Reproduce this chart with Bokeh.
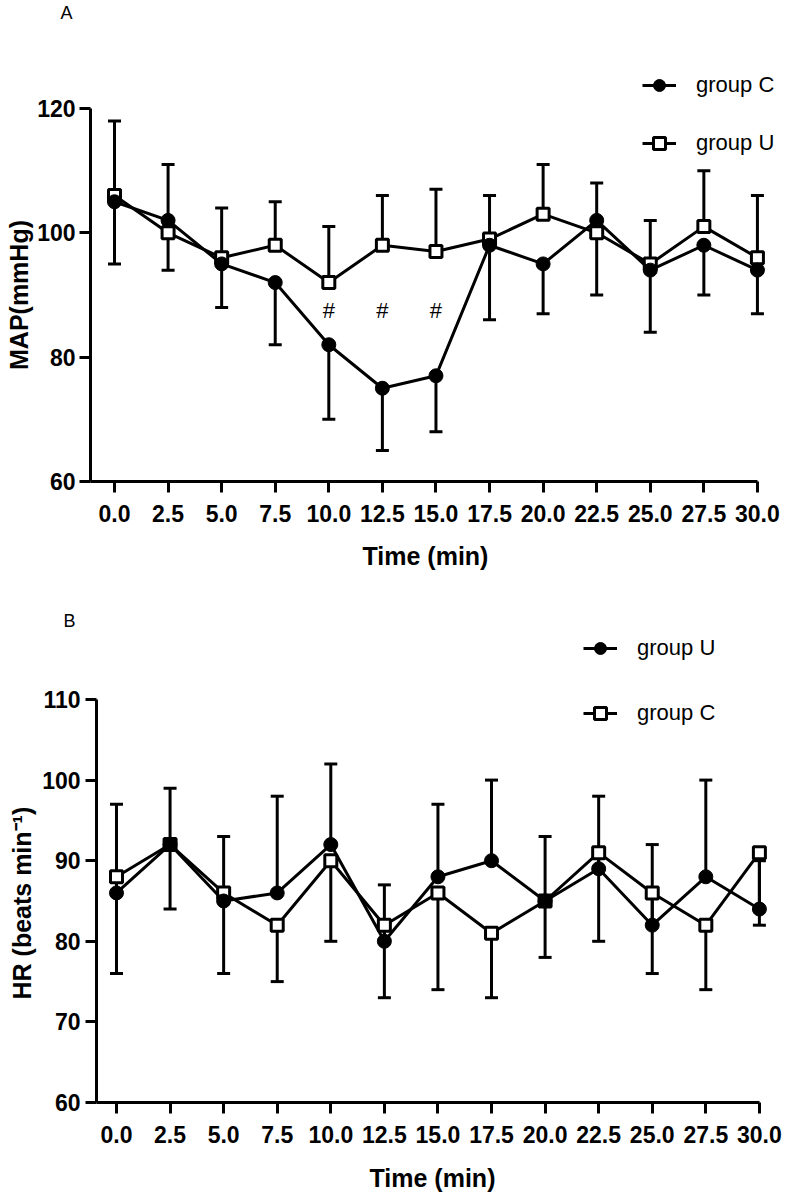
from bokeh.plotting import figure
from bokeh.models import (Range1d, FixedTicker, Whisker, TeeHead, ColumnDataSource,
                          Legend, LegendItem, Title, NumeralTickFormatter)
from bokeh.embed import file_html
from bokeh.resources import INLINE
from bokeh.core.properties import value

# ---------------- data ----------------
times = [0, 2.5, 5, 7.5, 10, 12.5, 15, 17.5, 20, 22.5, 25, 27.5, 30]
time_labels = ["0.0", "2.5", "5.0", "7.5", "10.0", "12.5", "15.0",
               "17.5", "20.0", "22.5", "25.0", "27.5", "30.0"]

# Panel A: MAP (mmHg)
map_c_mean = [105, 102, 95, 92, 82, 75, 77, 98, 95, 102, 94, 98, 94]
map_c_sd = [10, 8, 7, 10, 12, 10, 9, 12, 8, 12, 10, 8, 7]
map_u_mean = [106, 100, 96, 98, 92, 98, 97, 99, 103, 100, 95, 101, 96]
map_u_sd = [12, 11, 8, 7, 9, 8, 10, 7, 8, 8, 7, 9, 10]
map_sig_times = [10, 12.5, 15]
map_sig_level = 87.5
map_ticks = [60, 80, 100, 120]

# Panel B: HR (beats/min)
hr_u_mean = [86, 92, 85, 86, 92, 80, 88, 90, 85, 89, 82, 88, 84]
hr_u_sd = [11, 7, 8, 12, 10, 7, 9, 10, 8, 9, 10, 12, 6]
hr_c_mean = [88, 92, 86, 82, 90, 82, 86, 81, 85, 91, 86, 82, 91]
hr_c_sd = [12, 8, 10, 7, 10, 9, 12, 8, 7, 11, 10, 8, 9]
hr_ticks = [60, 70, 80, 90, 100, 110]

FONT = "Liberation Sans"
X_TITLE = "Time (min)"


def make_fig(x_range, y_range, frame_w, frame_h, left, right, top, bottom):
    p = figure(frame_width=frame_w, frame_height=frame_h,
               x_range=Range1d(*x_range), y_range=Range1d(*y_range),
               min_border_left=left, min_border_right=right,
               min_border_top=top, min_border_bottom=bottom,
               output_backend="svg", toolbar_location=None,
               background_fill_color="white", border_fill_color="white")
    p.outline_line_color = None
    p.grid.visible = False
    return p


def style_axes(p, y_ticks, x_bounds, y_bounds, y_label_standoff):
    for ax in (p.xaxis[0], p.yaxis[0]):
        ax.axis_line_width = 3
        ax.axis_line_color = "black"
        ax.major_tick_line_width = 3
        ax.major_tick_line_color = "black"
        ax.major_tick_out = 11
        ax.major_tick_in = 0
        ax.minor_tick_line_color = None
        ax.major_label_text_font = FONT
        ax.major_label_text_font_style = "bold"
        ax.major_label_text_font_size = "23px"
        ax.major_label_text_color = "black"
        ax.axis_label_text_font = FONT
        ax.axis_label_text_font_style = "bold"
        ax.axis_label_text_font_size = "25px"
        ax.axis_label_text_color = "black"
    xa, ya = p.xaxis[0], p.yaxis[0]
    xa.ticker = FixedTicker(ticks=times)
    xa.formatter = NumeralTickFormatter(format="0.0")
    xa.major_label_overrides = {t: lab for t, lab in zip(times, time_labels)}
    xa.bounds = x_bounds
    xa.major_label_standoff = 12
    ya.ticker = FixedTicker(ticks=y_ticks)
    ya.bounds = y_bounds
    ya.major_label_standoff = y_label_standoff


def add_y_title(p, text, offset, standoff):
    p.add_layout(Title(text=text, align="left", offset=offset,
                       vertical_align="top", standoff=standoff,
                       text_font=FONT, text_font_size="25px",
                       text_font_style="bold", text_color="black"), "left")


def add_x_title(p, offset, standoff):
    p.add_layout(Title(text=X_TITLE, align="left", offset=offset,
                       vertical_align="top", standoff=standoff,
                       text_font=FONT, text_font_size="25px",
                       text_font_style="bold", text_color="black"), "below")


def add_series(p, mean, sd, marker, upward):
    if upward:
        lo = list(mean)
        hi = [m + s for m, s in zip(mean, sd)]
    else:
        lo = [m - s for m, s in zip(mean, sd)]
        hi = list(mean)
    src = ColumnDataSource(dict(x=times, y=mean, lo=lo, hi=hi))
    head = TeeHead(size=13, line_width=3, line_color="black")
    w = Whisker(source=src, base="x", lower="lo", upper="hi",
                line_width=3, line_color="black", level="underlay",
                upper_head=head if upward else None,
                lower_head=None if upward else head)
    p.add_layout(w)
    ln = p.line("x", "y", source=src, line_width=3, line_color="black")
    if marker == "circle":
        sc = p.scatter("x", "y", source=src, marker="circle", size=14,
                       fill_color="black", line_color="black", line_width=1)
    else:
        sc = p.scatter("x", "y", source=src, marker="square", size=12,
                       fill_color="white", line_color="black", line_width=3)
    return ln, sc


def add_legend(p, items, loc, spacing):
    lg = Legend(items=[LegendItem(label=lab, renderers=list(r)) for lab, r in items],
                location=loc, glyph_width=34, glyph_height=30, label_height=30,
                label_standoff=20, spacing=spacing, padding=0, margin=0,
                border_line_color=None, background_fill_alpha=0,
                label_text_font=FONT, label_text_font_size="22px",
                label_text_color="black")
    p.add_layout(lg)


def add_panel_letter(p, letter, offset):
    p.add_layout(Title(text=letter, align="left", offset=offset, standoff=0,
                       vertical_align="top", text_font=FONT,
                       text_font_size="18px", text_font_style="normal",
                       text_color="black"), "above")


# ---------------- Panel A ----------------
pa = make_fig((-1.12, 31.31), (60, 133.51), 695, 457, 90, 1, 24, 125)
style_axes(pa, map_ticks, (-1.12, 30.0), (60, 120), 4)
add_y_title(pa, "MAP(mmHg)", 111.5, 0)
add_x_title(pa, 272, 35)
a_u = add_series(pa, map_u_mean, map_u_sd, "square", True)
a_c = add_series(pa, map_c_mean, map_c_sd, "circle", False)
pa.text(x=map_sig_times, y=[map_sig_level] * len(map_sig_times),
        text=["#"] * len(map_sig_times), text_align="center",
        text_baseline="middle", text_font=value(FONT),
        text_font_size="22px", text_color="black")
add_legend(pa, [("group C", a_c), ("group U", a_u)], (552, 323), 28)
add_panel_letter(pa, "A", -30)

# ---------------- Panel B ----------------
pb = make_fig((-0.933, 30.425), (60, 118.31), 672, 470, 96, 18, 26, 84)
style_axes(pb, hr_ticks, (-0.933, 30.0), (60, 110), 5)
add_y_title(pb, "HR (beats min\u207b\u00b9)", 103, 4)
pb.xaxis[0].axis_label = X_TITLE
pb.xaxis[0].axis_label_standoff = 18
b_c = add_series(pb, hr_c_mean, hr_c_sd, "square", False)
b_u = add_series(pb, hr_u_mean, hr_u_sd, "circle", True)
add_legend(pb, [("group U", b_u), ("group C", b_c)], (487, 374), 35)
add_panel_letter(pb, "B", -33)

# two independent roots, stacked vertically (each keeps its own frame position)
open("out.html", "w").write(file_html([pa, pb], INLINE))
